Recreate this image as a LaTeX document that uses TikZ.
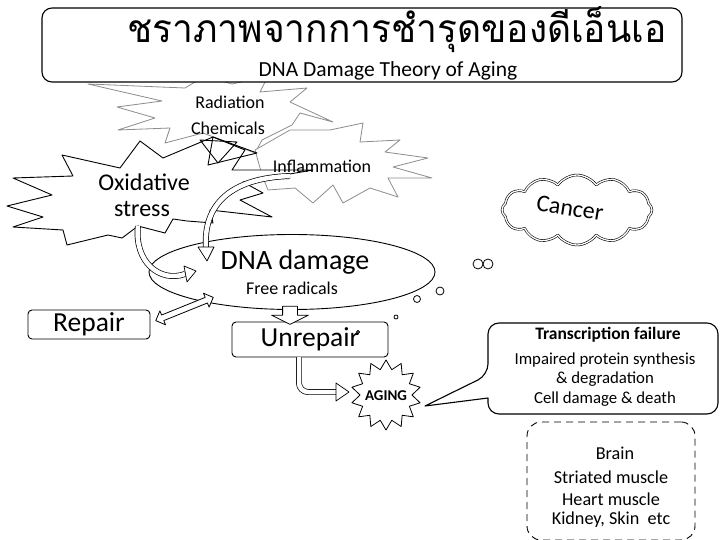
\documentclass[tikz,border=0pt]{standalone}
\usepackage{fontspec}
\setmainfont{Carlito}
\newfontfamily\thaifont[Script=Thai]{Loma}
\usetikzlibrary{shapes.geometric,shapes.symbols,shapes.arrows,calc}
\newcommand\fsz[2]{\fontsize{#1}{#2}\selectfont}
\begin{document}
\begin{tikzpicture}[x=1pt,y=-1pt, line join=round,
  every node/.style={inner sep=0pt, outer sep=0pt},
  burst/.style={draw, fill=white, line width=0.9pt},
  grayburst/.style={draw=black!45, fill=white, line width=0.8pt},
  plainbox/.style={draw, line width=0.9pt, rounded corners=4pt},
  hollow/.style={line width=0.7pt, double=white, double distance=4.5pt},
  headtri/.style={draw, fill=white, line width=0.7pt},
  bubble/.style={circle, draw, line width=0.8pt},
]
\useasboundingbox (0,0) rectangle (720,540);

% external stress bursts
\draw[grayburst] (88,84) -- (162,101) -- (117,107) -- (155,118) -- (118,130) -- (170,128) -- (165,143) -- (203,133) -- (255,153) -- (262,140) -- (292,125) -- (300,113) -- (333,122) -- (290,102) -- (307,88) -- (260,92) -- (268,76) -- (232,84) -- (205,76) -- (185,88) -- cycle;
\draw[grayburst] (255,150) -- (290,130) -- (330,130) -- (363,123) -- (360,142) -- (400,140) -- (385,152) -- (428,158) -- (393,167) -- (432,178) -- (388,178) -- (398,197) -- (370,188) -- (343,203) -- (333,185) -- (313,203) -- (295,188) -- (268,190) -- (262,175) -- cycle;
\draw[burst] (213,137) -- (163,158) -- (140,141) -- (120,168) -- (62,155) -- (73,176) -- (13,178) -- (52,195) -- (7,206) -- (43,217) -- (13,227) -- (63,230) -- (67,245) -- (108,235) -- (122,238) -- (138,226) -- (165,233) -- (173,219) -- (187,221) -- (213,223) -- (210,210) -- (272,217) -- (240,200) -- (263,193) -- (243,182) -- (313,170) -- (232,170) -- (245,150) -- cycle;
\draw[line width=0.9pt] (213,137) -- (257,153) -- (208,165) -- cycle;
\draw[line width=0.9pt] (200,140) -- (237,142) -- (218,163) -- cycle;

% title
\node[draw, fill=white, rounded corners=10pt, line width=1.1pt, minimum width=640, minimum height=74] (titlebox) at (362,45) {};
\node[font=\thaifont\fsz{36}{40}, xscale=1.03, yscale=1.08] (thai) at (397,30) {ชราภาพจากการชำรุดของดีเอ็นเอ};
\node[font=\fsz{21.5}{25}] (subtitle) at (388,71) {DNA Damage Theory of Aging};

\node[font=\fsz{18}{21}] (radiation) at (230,102) {Radiation};
\node[font=\fsz{18}{21}] (chemicals) at (228,128) {Chemicals};
\node[font=\fsz{18}{21}] (inflam) at (322,166) {Inflammation};
\node[font=\fsz{24}{28}] (oxid) at (144,182) {Oxidative};
\node[font=\fsz{24}{28}] (stress) at (142,209) {stress};

% DNA damage
\node[ellipse, draw, line width=0.9pt, minimum width=286, minimum height=75] (dna) at (292,272) {};
\node[font=\fsz{28}{32}] (dnatxt) at (295,262) {DNA damage};
\node[font=\fsz{18}{21}] (freerad) at (292,288) {Free radicals};

% boxes
\node[plainbox, minimum width=122, minimum height=29, font=\fsz{27.5}{32}] (repair) at (89,324.5) {Repair};
\node[plainbox, minimum width=156, minimum height=35, font=\fsz{27.5}{32}] (unrepair) at (310,339.5) {Unrepair};

% hollow arrows
\node[double arrow, draw, fill=white, line width=0.8pt, rotate=22, minimum height=62, inner xsep=0pt, inner ysep=2.6pt, double arrow head extend=4.5pt] (reparrow) at (184.5,309) {};
\node[single arrow, draw, fill=white, line width=0.8pt, rotate=-90, minimum height=18, single arrow head extend=11pt, single arrow tip angle=127, inner xsep=0pt, inner ysep=7pt] (downarrow) at (290,313.5) {};

\coordinate (oxstart) at (138,226);
\coordinate (oxend) at (185,274);
\draw[hollow] (oxstart) .. controls (134,262) and (160,283) .. (oxend);
\draw[headtri] ($(oxend)+(-1,-8)$) -- ($(oxend)+(11,-3)$) -- ($(oxend)+(2,8)$) -- cycle;

\coordinate (infstart) at (290,176);
\coordinate (infend) at (206,248);
\draw[hollow] (infstart) .. controls (230,178) and (203,205) .. (infend);
\draw[headtri] ($(infend)+(-8,-1)$) -- ($(infend)+(8,-1)$) -- ($(infend)+(1,13)$) -- cycle;

% aging
\node[star, star points=14, star point ratio=1.35, minimum size=70, draw, fill=white, line width=0.8pt] (aging) at (386,395) {};
\node[font=\bfseries\fsz{15}{18}] (agingtxt) at (386,396) {AGING};
\coordinate (unrstart) at (299,357);
\coordinate (agingin) at (336,392);
\draw[hollow, rounded corners=9pt] (unrstart) |- (agingin);
\draw[headtri] ($(agingin)+(0,-9)$) -- ($(agingin)+(13,0)$) -- ($(agingin)+(0,9)$) -- cycle;

% callout
\coordinate (calltip) at (425,406);
\draw[line width=1.1pt] (calltip) -- (488,398) [rounded corners=11pt] -- (488,414) -- (718,414) -- (718,323) -- (488,323) -- (488,375) [sharp corners] -- cycle;
\node[font=\bfseries\fsz{17.5}{20}] (transc) at (608,335) {Transcription failure};
\node[font=\fsz{16.8}{19}] (impaired) at (605,360) {Impaired protein synthesis};
\node[font=\fsz{16.8}{19}] (degrad) at (605,379) {\& degradation};
\node[font=\fsz{16.8}{19}] (celldmg) at (605,399) {Cell damage \& death};

% organs
\node[draw, dash pattern=on 7pt off 5pt, rounded corners=14pt, line width=0.9pt, minimum width=168, minimum height=118] (organs) at (611,481) {};
\node[font=\fsz{18.2}{21}] (brain) at (615,453) {Brain};
\node[font=\fsz{18.2}{21}] (striated) at (611,477) {Striated muscle};
\node[font=\fsz{18.2}{21}] (heart) at (611,499) {Heart muscle};
\node[font=\fsz{18.2}{21}] (kidney) at (611,520) {Kidney, Skin\ \ etc};

% cancer
\node[cloud, cloud puffs=12, cloud puff arc=110, aspect=2.1, draw, double, double distance=1.3pt, line width=0.6pt, minimum width=150, minimum height=70] (cancer) at (577,210) {};
\node[rotate=-9, font=\fsz{24}{28}] (cancertxt) at (570,208) {Cancer};

% thought bubbles
\node[bubble, minimum size=10] (b1) at (478,264) {};
\node[bubble, minimum size=10] (b2) at (488,264) {};
\node[bubble, minimum size=8] (b3) at (440,291) {};
\node[bubble, minimum size=7] (b4) at (417,299) {};
\node[bubble, minimum size=4] (b5) at (396,317) {};
\node[circle, draw, fill=black!70, minimum size=3.5] (b6) at (358,332) {};
\end{tikzpicture}
\end{document}
